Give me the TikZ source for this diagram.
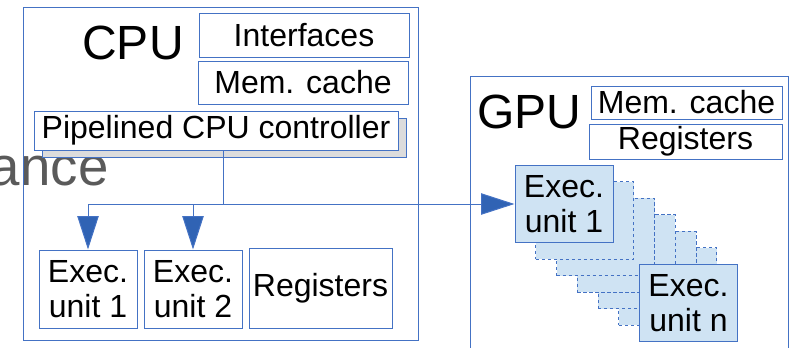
\documentclass[tikz,border=0pt]{standalone}
\usepackage{fontspec}
\setmainfont{Liberation Sans}
\usetikzlibrary{arrows.meta,shadows}
\definecolor{edge}{HTML}{4472C4}
\definecolor{tip}{HTML}{3063B4}
\definecolor{unitfill}{HTML}{CFE3F3}
\definecolor{shade}{HTML}{DCDCDC}
\definecolor{faded}{HTML}{5A5A5A}

\begin{document}
\begin{tikzpicture}[x=0.75pt,y=-0.75pt,line width=0.75pt,
 part/.style={draw=edge,fill=white,inner sep=0pt,align=center,font=\fontsize{24}{26}\selectfont},
 chip/.style={draw=edge,inner sep=0pt},
 title/.style={inner sep=0pt,font=\fontsize{36}{36}\selectfont},
 unit/.style={part,fill=unitfill,minimum width=73.5pt,minimum height=58pt},
 ghost/.style={draw=edge,dashed,dash pattern=on 2.5pt off 2pt,fill=unitfill,minimum width=73.5pt,minimum height=58pt,inner sep=0pt},
 arrow/.style={-{Triangle[length=25pt,width=16pt,fill=tip]},edge}]
 \useasboundingbox (0,0) rectangle (791,347);
 \node[anchor=base east,inner sep=0pt,text=faded,font=\fontsize{41}{41}\selectfont] (ance) at (109,185) {ance};
 % CPU side
 \node[chip,minimum width=296.25pt,minimum height=249.75pt] (cpu) at (220.5,173.5) {};
 \node[title] (cpuname) at (133,42.5) {CPU};
 \node[part,minimum width=157.5pt,minimum height=33pt] (iface) at (304,35) {Interfaces};
 \node[part,minimum width=157.5pt,minimum height=32.25pt] (cmem) at (303,82.5) {Mem. cache};
 \node[part,minimum width=273pt,minimum height=29.25pt,drop shadow={shadow xshift=6pt,shadow yshift=-5.25pt,fill=shade,draw=edge,opacity=1}] (ctrl) at (216,130.5) {Pipelined CPU controller};
 \node[part,minimum width=73.5pt,minimum height=58.5pt] (cex1) at (88,289) {Exec.\\unit 1};
 \node[part,minimum width=73.5pt,minimum height=58.5pt] (cex2) at (193,289) {Exec.\\unit 2};
 \node[part,minimum width=107.25pt,minimum height=60pt] (creg) at (320.5,288) {Registers};
 % GPU side
 \node[chip,minimum width=238.5pt,minimum height=213pt] (gpu) at (629,218) {};
 \node[title] (gpuname) at (529,111.5) {GPU};
 \node[part,minimum width=143.25pt,minimum height=24.75pt] (gmem) at (686.5,102.5) {Mem. cache};
 \node[part,minimum width=144.75pt,minimum height=26.25pt] (greg) at (685.5,141.5) {Registers};
 \foreach \k in {5,4,...,1}
  \node[ghost] (gst\k) at (564+20.75*\k,204+16.5*\k) {};
 \node[unit] (gex1) at (564,204) {Exec.\\unit 1};
 \node[unit] (gexn) at (688.5,303) {Exec.\\unit n};
 % dispatch
 \coordinate (split) at (223,204);
 \draw[edge] (split |- ctrl.south) -- (split);
 \draw[arrow] (split) -| (cex1.north);
 \draw[arrow] (split) -| (cex2.north);
 \draw[arrow] (split) -- (gex1.west);
\end{tikzpicture}
\end{document}
